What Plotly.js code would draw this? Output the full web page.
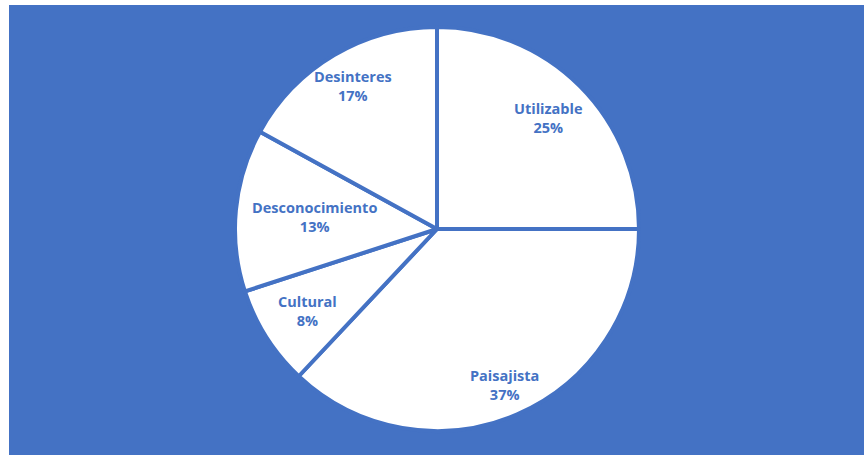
<!DOCTYPE html>
<html>
<head>
<meta charset="utf-8">
<script src="https://cdn.plot.ly/plotly-3.0.1.min.js"></script>
<style>
html,body{margin:0;padding:0;background:#ffffff;width:864px;height:455px;overflow:hidden;}
#chart{position:absolute;left:9px;top:5px;width:855px;height:450px;}
</style>
</head>
<body>
<div id="chart"></div>
<script>
var labels = ["Utilizable", "Paisajista", "Cultural", "Desconocimiento", "Desinteres"];
var values = [25, 37, 8, 13, 17];

var blue = "#4472C4";
var W = 855, H = 450;
var cx = 428, cy = 224, R = 202;
// radial placement of each label (fraction of radius), as in the original
var labelRadius = [0.78, 0.84, 0.76, 0.61, 0.82];

var data = [{
  type: "pie",
  labels: labels,
  values: values,
  sort: false,
  direction: "clockwise",
  rotation: 0,
  marker: {colors: labels.map(function(){return "#ffffff";}), line: {color: blue, width: 4}},
  textinfo: "none",
  hoverinfo: "none",
  domain: {x: [(cx - R) / W, (cx + R) / W], y: [(H - cy - R) / H, (H - cy + R) / H]}
}];

var total = values.reduce(function(a, b){return a + b;}, 0);
var cum = 0;
var annotations = values.map(function(v, i){
  var mid = (cum + v / 2) / total * 2 * Math.PI;
  cum += v;
  var r = R * labelRadius[i];
  var px = cx + r * Math.sin(mid);
  var py = cy - r * Math.cos(mid);
  return {
    x: px / W, y: (H - py) / H, xref: "paper", yref: "paper",
    text: "<b>" + labels[i] + "</b><br><b>" + Math.round(v / total * 100) + "%</b>",
    showarrow: false, xanchor: "center", yanchor: "middle",
    font: {family: "Open Sans, Arial, sans-serif", size: 14.5, color: blue}
  };
});

var layout = {
  width: W, height: H,
  margin: {l:0, r:0, t:0, b:0},
  paper_bgcolor: blue,
  plot_bgcolor: blue,
  showlegend: false,
  annotations: annotations
};
Plotly.newPlot("chart", data, layout, {displayModeBar: false, staticPlot: true});
</script>
</body>
</html>
